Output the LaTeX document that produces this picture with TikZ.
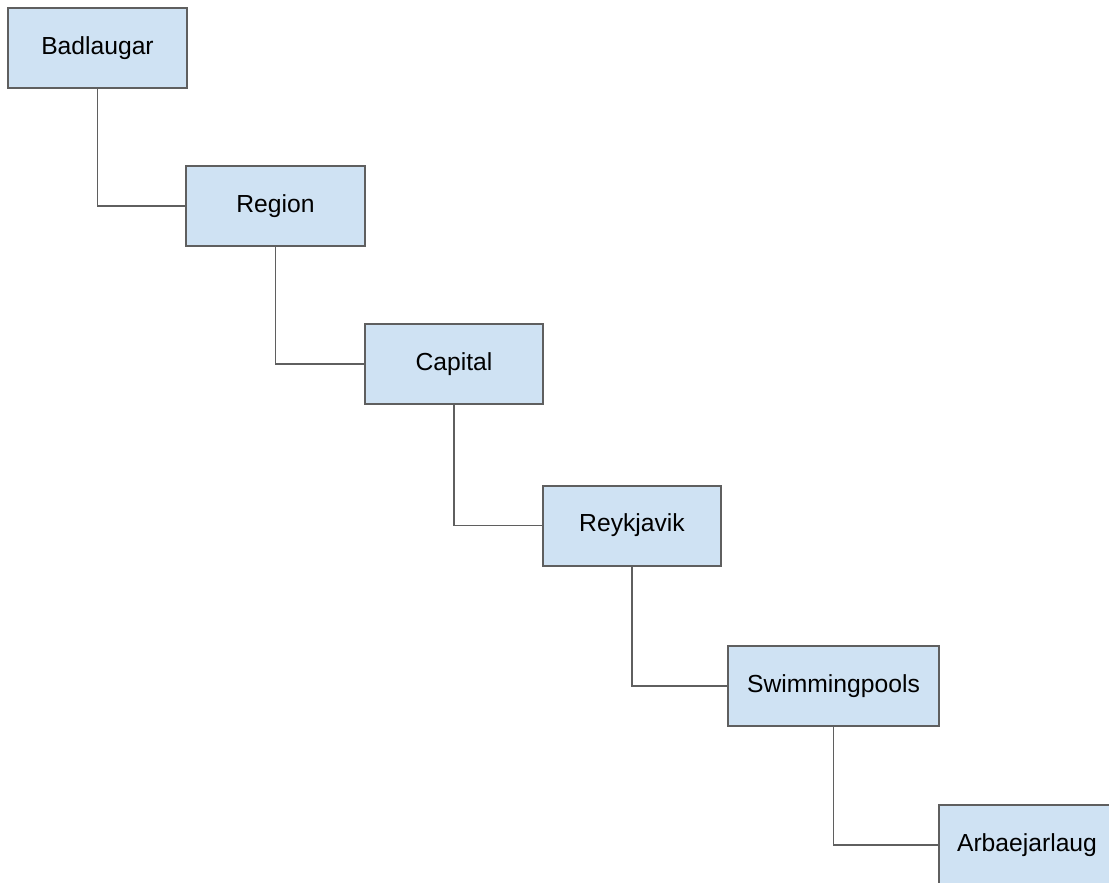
\documentclass[tikz,border=0pt]{standalone}
\usepackage{fontspec}
\setmainfont{Liberation Sans}
\usepackage{xcolor}
\usetikzlibrary{positioning}
\definecolor{boxcol}{RGB}{207,226,243}
\definecolor{linecol}{RGB}{95,95,95}
\tikzset{
  levelbox/.style={draw=linecol, fill=boxcol, line width=1.5pt, minimum height=60pt,
    inner sep=0pt, font=\fontsize{18.5}{22}\selectfont},
  link/.style={draw=linecol, line width=1.4pt}
}

\begin{document}
\begin{tikzpicture}[x=0.75pt,y=-0.75pt]
\useasboundingbox (0,0) rectangle (1109,882);

% the chain of levels
\node[levelbox, minimum width=134.25pt] (bad) at (97.5,48) {Badlaugar};
\node[levelbox, minimum width=134.25pt] (reg) at (275.5,206) {Region};
\node[levelbox, minimum width=133.5pt] (cap) at (454,364) {Capital};
\node[levelbox, minimum width=133.5pt] (rey) at (632,525.5) {Reykjavik};
\node[levelbox, minimum width=158.25pt] (swi) at (833.5,686) {Swimmingpools};
% last box runs off the page
\node[levelbox, minimum width=150pt] (arb) at (1039,845) {Arbaejarlaug\kern18pt};

% connectors
\draw[link] (bad.south) |- (reg.west);
\draw[link] (reg.south) |- (cap.west);
\draw[link] (cap.south) |- (rey.west);
\draw[link] (rey.south) |- (swi.west);
\draw[link] (swi.south) |- (arb.west);
\end{tikzpicture}
\end{document}
